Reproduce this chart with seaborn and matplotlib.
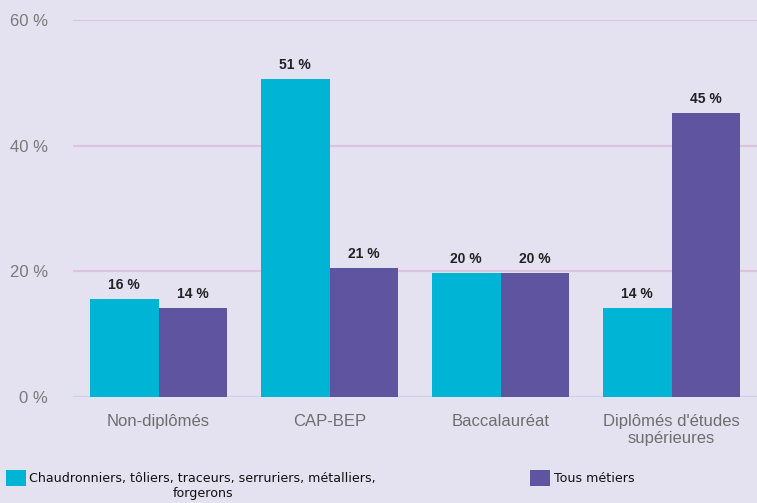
import pandas as pd
import seaborn as sns
import matplotlib.pyplot as plt

# Data
categories = ["Non-diplômés", "CAP-BEP", "Baccalauréat", "Diplômés d'études\nsupérieures"]
series_names = ["Chaudronniers, tôliers, traceurs, serruriers, métalliers,", "Tous métiers"]
series_name_2nd_line = "forgerons"
metiers = [15.6, 50.6, 19.7, 14.2]
tous = [14.2, 20.6, 19.7, 45.2]
y_ticks = [0, 20, 40, 60]

bg = "#e4e1f0"
colors = ["#00b4d6", "#5f54a0"]

df = pd.DataFrame({
    "categorie": categories * 2,
    "serie": [series_names[0]] * 4 + [series_names[1]] * 4,
    "valeur": metiers + tous,
})

sns.set_theme(style="white")
plt.rcParams["font.family"] = ["Liberation Sans", "DejaVu Sans"]

fig = plt.figure(figsize=(7.57, 5.03), dpi=100, facecolor=bg)
ax = fig.add_axes([73 / 757, 1 - 397 / 503, 1 - 73 / 757, (397 - 20) / 503])
ax.set_facecolor(bg)

sns.barplot(data=df, x="categorie", y="valeur", hue="serie", palette=colors,
            width=0.8, saturation=1, errorbar=None, ax=ax, legend=True,
            edgecolor="none", zorder=3)

# bar labels, rounded like the source
for cont in ax.containers:
    ax.bar_label(cont, labels=[f"{round(v.get_height())} %" for v in cont],
                 padding=5, fontsize=10, fontweight="bold", color="#222222")

ax.set_ylim(0, 60)
ax.set_yticks(y_ticks)
ax.set_yticklabels([f"{t} %" for t in y_ticks])
ax.set_xlim(-0.5, 3.5)
ax.grid(axis="y", color="#dcc4de", linewidth=1.5, zorder=0)
ax.axhline(0, color="#c9d3ee", linewidth=1.5, zorder=2)
for s in ax.spines.values():
    s.set_visible(False)
ax.tick_params(axis="y", length=0, pad=18, labelsize=12, labelcolor="#7a7a7a")
ax.tick_params(axis="x", length=0, pad=12, labelsize=12, labelcolor="#6e6e6e")
ax.set_xlabel("")
ax.set_ylabel("")

# legend at the bottom
handles, labels = ax.get_legend_handles_labels()
ax.get_legend().remove()
leg = fig.legend(handles, labels, loc="upper left", bbox_to_anchor=(6 / 757, 1 - 470 / 503),
                 ncol=2, frameon=False, handlelength=1.6, handleheight=1.6,
                 handletextpad=0.25, columnspacing=12.2, borderpad=0, borderaxespad=0,
                 prop={"family": "DejaVu Sans", "size": 9.1})
for t in leg.get_texts():
    t.set_color("#111111")

# second line of the first legend label, centred under the first line
fig.canvas.draw()
bb = leg.get_texts()[0].get_window_extent().transformed(fig.transFigure.inverted())
fig.text((bb.x0 + bb.x1) / 2, bb.y0 - 2 / 503, series_name_2nd_line, ha="center", va="top",
         family="DejaVu Sans", fontsize=9.1, color="#111111")

fig.savefig("out.png", dpi=100, facecolor=bg)
